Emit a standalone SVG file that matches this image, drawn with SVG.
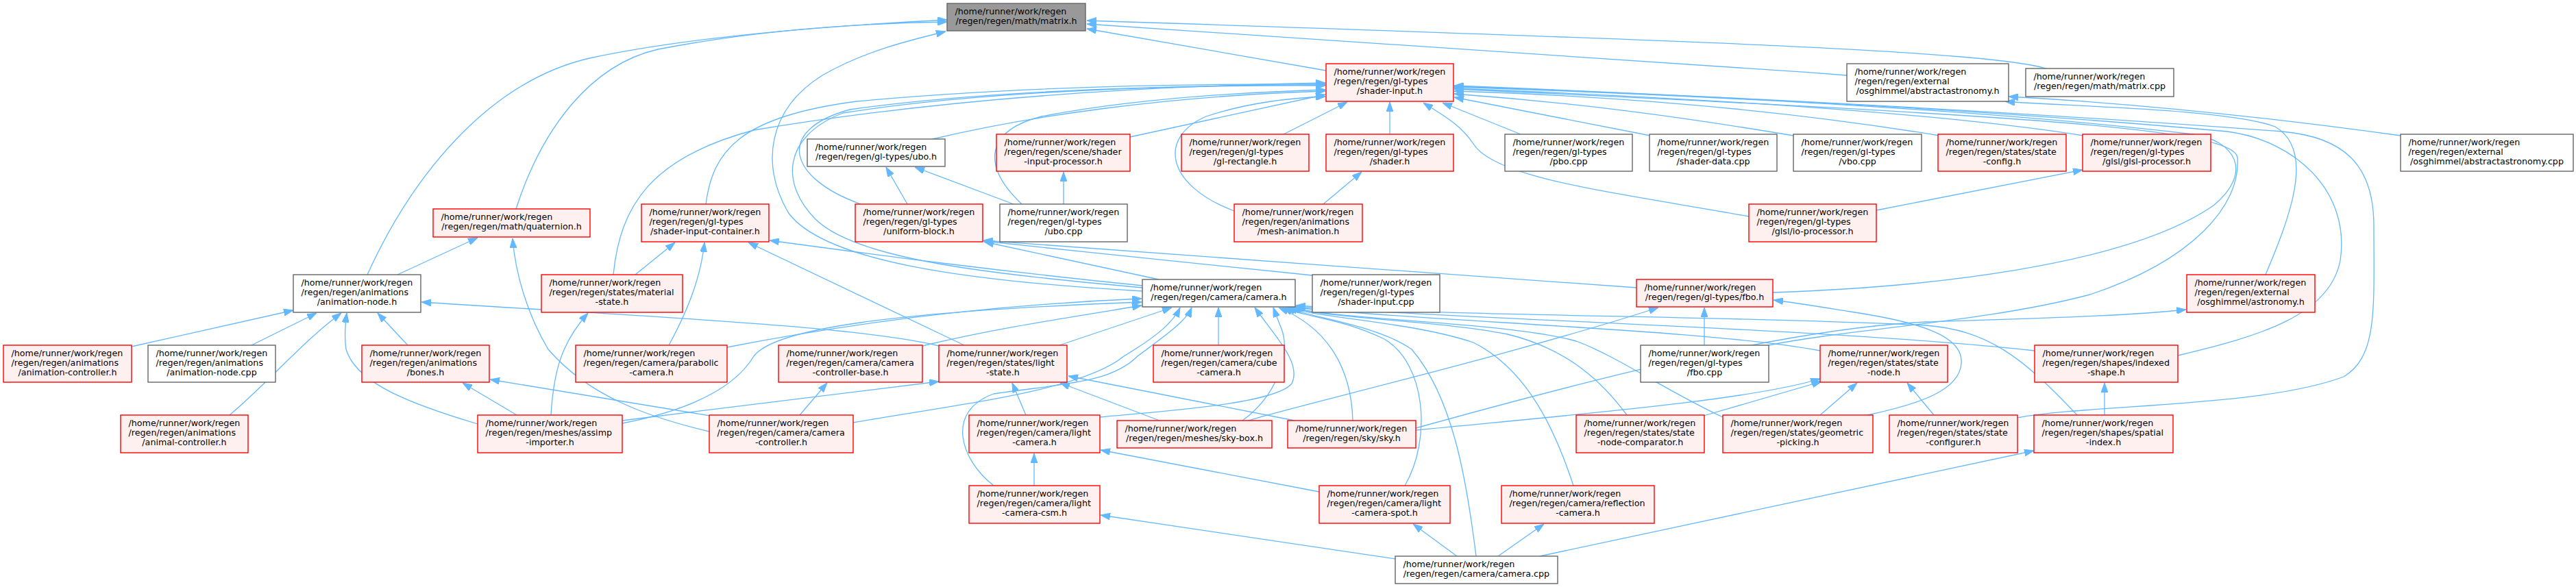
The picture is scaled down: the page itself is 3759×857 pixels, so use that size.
<svg xmlns="http://www.w3.org/2000/svg" width="3759" height="857" viewBox="0 0 3759 857">
<style>
.edges path{fill:none;stroke:#63b8ff;stroke-width:1.3;marker-end:url(#a)}
rect{stroke-width:1.4}
.g rect{fill:#ffffff;stroke:#666666}
.r rect{fill:#fff0f0;stroke:#ff0000}
.root rect{fill:#999999;stroke:#666666}
text{font-family:"DejaVu Sans","Liberation Sans",sans-serif;font-size:12.7px;fill:#000000}
.m{text-anchor:middle}
</style>
<defs>
<marker id="a" markerUnits="userSpaceOnUse" markerWidth="14" markerHeight="10" refX="14" refY="5" orient="auto"><path d="M0,0 L14,5 L0,10 z" fill="#63b8ff" stroke="#63b8ff" stroke-width="1"/></marker>
</defs>
<rect x="0" y="0" width="3759" height="857" fill="#ffffff" stroke="none"/>
<g id="edges" class="edges">
<path d="M536,401 C600,260 710,120 860,85 C1000,55 1200,38 1382,29"/>
<path d="M753,305 C790,190 860,95 960,72 C1100,45 1250,34 1382,32"/>
<path d="M1667,425 C1400,410 1200,380 1150,310 C1110,240 1120,160 1200,110 C1260,75 1330,58 1380,46"/>
<path d="M1935,103 L1586,42"/>
<path d="M2695,110 C2300,80 1900,55 1586,35"/>
<path d="M2986,100 C2900,75 2500,60 1586,30"/>
<path d="M580,401 L697,347"/>
<path d="M1035,630 C950,610 860,580 800,510 C770,460 752,400 748,348"/>
<path d="M192,506 L428,453"/>
<path d="M367,504 L462,457"/>
<path d="M335,606 C390,560 440,500 498,457"/>
<path d="M697,619 C600,590 520,560 505,510 C502,490 504,472 506,457"/>
<path d="M595,504 L551,457"/>
<path d="M1370,505 C1250,475 900,460 615,441"/>
<path d="M754,606 L675,559"/>
<path d="M1036,607 L715,554"/>
<path d="M804,606 C808,540 820,500 858,457"/>
<path d="M927,401 L985,354"/>
<path d="M976,504 C1000,460 1022,410 1028,354"/>
<path d="M1407,504 L1092,354"/>
<path d="M1667,417 C1450,395 1300,375 1123,351"/>
<path d="M1691,408 L1436,353"/>
<path d="M2388,420 C2100,400 1700,370 1435,351"/>
<path d="M1915,402 C1800,390 1600,370 1435,352"/>
<path d="M1324,298 L1293,244"/>
<path d="M1479,298 L1335,244"/>
<path d="M1552,298 L1552,251"/>
<path d="M1931,298 L1987,251"/>
<path d="M2738,307 L3039,248"/>
<path d="M3503,198 C3300,170 3100,150 2931,141"/>
<path d="M3306,401 C3340,320 3380,220 3320,185 C3250,158 3000,155 2926,148"/>
<path d="M2066,625 C2300,560 2600,480 2810,470 C2950,465 3100,462 3190,452"/>
<path d="M2581,504 C2700,480 2900,470 3050,430 C3200,380 3270,300 3265,230 C3260,190 3000,170 2122,130"/>
<path d="M2587,427 C2800,420 3100,390 3230,300 C3290,250 3260,205 3200,196 C2900,160 2500,140 2122,127"/>
<path d="M3178,519 C3300,490 3400,460 3415,380 C3430,280 3350,205 3250,192 C2900,160 2500,140 2122,126"/>
<path d="M2944,610 C3050,590 3300,595 3420,550 C3470,520 3464,450 3464,330 C3464,240 3420,200 3330,192 C2900,160 2500,140 2122,125"/>
<path d="M2219,196 L2105,150"/>
<path d="M2408,198 L2122,142"/>
<path d="M2617,198 C2450,170 2300,150 2122,137"/>
<path d="M2830,198 C2600,160 2350,140 2122,133"/>
<path d="M3040,198 C2800,160 2400,140 2122,129"/>
<path d="M2552,316 C2350,280 2180,260 2150,210 C2130,180 2100,165 2077,150"/>
<path d="M2028,196 L2028,149"/>
<path d="M1873,196 L1966,149"/>
<path d="M1649,200 L1934,138"/>
<path d="M1361,203 C1500,170 1700,140 1934,133"/>
<path d="M1491,298 C1430,240 1440,190 1520,170 C1650,145 1800,135 1934,131"/>
<path d="M1801,308 C1700,270 1690,200 1760,170 C1820,150 1880,143 1934,141"/>
<path d="M1030,298 C1040,220 1080,170 1250,148 C1500,125 1750,122 1934,123"/>
<path d="M1256,298 C1150,260 1130,190 1240,160 C1450,130 1750,124 1934,124"/>
<path d="M895,401 C905,300 950,230 1100,190 C1400,140 1700,125 1934,121"/>
<path d="M1667,420 C1450,400 1250,380 1190,320 C1140,270 1140,200 1230,165 C1450,130 1750,124 1934,125"/>
<path d="M1778,504 L1778,449"/>
<path d="M1546,504 L1710,449"/>
<path d="M1346,505 C1450,480 1550,465 1666,446"/>
<path d="M1061,507 C1250,470 1450,445 1666,436"/>
<path d="M908,618 C1000,600 1070,570 1100,520 C1130,480 1300,455 1666,441"/>
<path d="M908,614 L1370,557"/>
<path d="M1245,617 C1400,590 1580,570 1640,520 C1690,490 1712,470 1722,449"/>
<path d="M1167,606 L1207,559"/>
<path d="M1497,606 L1477,559"/>
<path d="M1605,609 C1700,600 1860,590 1885,560 C1900,530 1860,490 1831,449"/>
<path d="M1509,709 L1509,662"/>
<path d="M1450,709 C1400,670 1380,600 1450,575 C1550,560 1620,560 1660,520 C1700,490 1730,470 1739,449"/>
<path d="M1813,614 C1860,580 1885,520 1870,480 C1866,470 1862,460 1858,449"/>
<path d="M1692,614 L1547,559"/>
<path d="M1821,614 C1900,590 2200,520 2420,449"/>
<path d="M1889,614 L1559,549"/>
<path d="M1974,614 C1972,540 1940,480 1866,449"/>
<path d="M2050,709 C2090,640 2080,530 2020,495 C1960,465 1900,462 1872,449"/>
<path d="M1925,718 L1606,657"/>
<path d="M2036,816 L1606,752"/>
<path d="M2126,812 L2062,765"/>
<path d="M2186,812 L2253,765"/>
<path d="M2154,812 C2140,700 2120,580 2060,510 C2010,475 1920,465 1876,449"/>
<path d="M2296,709 C2270,630 2230,540 2150,500 C2060,470 1930,465 1879,449"/>
<path d="M2374,606 C2340,560 2290,510 2200,488 C2100,468 1950,466 1882,449"/>
<path d="M2514,609 C2430,570 2360,520 2300,498 C2200,470 1960,468 1885,449"/>
<path d="M2656,512 C2500,482 2100,470 1888,449"/>
<path d="M2969,512 C2700,482 2200,468 1890,448"/>
<path d="M3031,606 C2950,520 2900,482 2810,475 C2500,460 2100,462 1891,446"/>
<path d="M2486,607 L2658,557"/>
<path d="M2656,606 L2710,559"/>
<path d="M2822,606 L2783,559"/>
<path d="M2066,628 C2300,605 2550,585 2656,553"/>
<path d="M2725,606 C2800,590 2860,570 2862,530 C2865,490 2800,470 2700,455 C2650,447 2620,442 2588,438"/>
<path d="M2487,504 L2487,449"/>
<path d="M3071,606 L3071,559"/>
<path d="M2247,812 L2968,658"/>
</g>
<g id="matrix_h" class="root"><rect x="1382" y="5" width="202" height="40"/><text x="1393.5" y="20.5">/home/runner/work/regen</text><text class="m" x="1483" y="34.5">/regen/regen/math/matrix.h</text></g>
<g id="shader_input_h" class="r"><rect x="1935" y="93" width="186" height="55"/><text x="1946.5" y="108.5">/home/runner/work/regen</text><text x="1946.5" y="122.5">/regen/regen/gl-types</text><text class="m" x="2028" y="136.5">/shader-input.h</text></g>
<g id="abstractastronomy_h" class="g"><rect x="2695" y="93" width="236" height="55"/><text x="2706.5" y="108.5">/home/runner/work/regen</text><text x="2706.5" y="122.5">/regen/regen/external</text><text class="m" x="2813" y="136.5">/osghimmel/abstractastronomy.h</text></g>
<g id="matrix_cpp" class="g"><rect x="2956" y="100" width="216" height="41"/><text x="2967.5" y="115.5">/home/runner/work/regen</text><text class="m" x="3064" y="129.5">/regen/regen/math/matrix.cpp</text></g>
<g id="ubo_h" class="g"><rect x="1178" y="203" width="201" height="40"/><text x="1189.5" y="218.5">/home/runner/work/regen</text><text class="m" x="1278.5" y="232.5">/regen/regen/gl-types/ubo.h</text></g>
<g id="shader_input_processor_h" class="r"><rect x="1454" y="196" width="195" height="54"/><text x="1465.5" y="211.5">/home/runner/work/regen</text><text x="1465.5" y="225.5">/regen/regen/scene/shader</text><text class="m" x="1551.5" y="239.5">-input-processor.h</text></g>
<g id="gl_rectangle_h" class="r"><rect x="1724" y="196" width="186" height="54"/><text x="1735.5" y="211.5">/home/runner/work/regen</text><text x="1735.5" y="225.5">/regen/regen/gl-types</text><text class="m" x="1817" y="239.5">/gl-rectangle.h</text></g>
<g id="shader_h" class="r"><rect x="1935" y="196" width="186" height="54"/><text x="1946.5" y="211.5">/home/runner/work/regen</text><text x="1946.5" y="225.5">/regen/regen/gl-types</text><text class="m" x="2028" y="239.5">/shader.h</text></g>
<g id="pbo_cpp" class="g"><rect x="2196" y="196" width="186" height="54"/><text x="2207.5" y="211.5">/home/runner/work/regen</text><text x="2207.5" y="225.5">/regen/regen/gl-types</text><text class="m" x="2289" y="239.5">/pbo.cpp</text></g>
<g id="shader_data_cpp" class="g"><rect x="2407" y="196" width="186" height="54"/><text x="2418.5" y="211.5">/home/runner/work/regen</text><text x="2418.5" y="225.5">/regen/regen/gl-types</text><text class="m" x="2500" y="239.5">/shader-data.cpp</text></g>
<g id="vbo_cpp" class="g"><rect x="2617" y="196" width="187" height="54"/><text x="2628.5" y="211.5">/home/runner/work/regen</text><text x="2628.5" y="225.5">/regen/regen/gl-types</text><text class="m" x="2710.5" y="239.5">/vbo.cpp</text></g>
<g id="state_config_h" class="r"><rect x="2828" y="196" width="187" height="54"/><text x="2839.5" y="211.5">/home/runner/work/regen</text><text x="2839.5" y="225.5">/regen/regen/states/state</text><text class="m" x="2921.5" y="239.5">-config.h</text></g>
<g id="glsl_processor_h" class="r"><rect x="3039" y="196" width="187" height="54"/><text x="3050.5" y="211.5">/home/runner/work/regen</text><text x="3050.5" y="225.5">/regen/regen/gl-types</text><text class="m" x="3132.5" y="239.5">/glsl/glsl-processor.h</text></g>
<g id="abstractastronomy_cpp" class="g"><rect x="3503" y="196" width="252" height="54"/><text x="3514.5" y="211.5">/home/runner/work/regen</text><text x="3514.5" y="225.5">/regen/regen/external</text><text class="m" x="3629" y="239.5">/osghimmel/abstractastronomy.cpp</text></g>
<g id="quaternion_h" class="r"><rect x="632" y="305" width="229" height="41"/><text x="643.5" y="320.5">/home/runner/work/regen</text><text class="m" x="746.5" y="334.5">/regen/regen/math/quaternion.h</text></g>
<g id="shader_input_container_h" class="r"><rect x="936" y="298" width="186" height="55"/><text x="947.5" y="313.5">/home/runner/work/regen</text><text x="947.5" y="327.5">/regen/regen/gl-types</text><text class="m" x="1029" y="341.5">/shader-input-container.h</text></g>
<g id="uniform_block_h" class="r"><rect x="1248" y="298" width="186" height="55"/><text x="1259.5" y="313.5">/home/runner/work/regen</text><text x="1259.5" y="327.5">/regen/regen/gl-types</text><text class="m" x="1341" y="341.5">/uniform-block.h</text></g>
<g id="ubo_cpp" class="g"><rect x="1459" y="298" width="186" height="55"/><text x="1470.5" y="313.5">/home/runner/work/regen</text><text x="1470.5" y="327.5">/regen/regen/gl-types</text><text class="m" x="1552" y="341.5">/ubo.cpp</text></g>
<g id="mesh_animation_h" class="r"><rect x="1801" y="298" width="187" height="55"/><text x="1812.5" y="313.5">/home/runner/work/regen</text><text x="1812.5" y="327.5">/regen/regen/animations</text><text class="m" x="1894.5" y="341.5">/mesh-animation.h</text></g>
<g id="io_processor_h" class="r"><rect x="2552" y="298" width="186" height="55"/><text x="2563.5" y="313.5">/home/runner/work/regen</text><text x="2563.5" y="327.5">/regen/regen/gl-types</text><text class="m" x="2645" y="341.5">/glsl/io-processor.h</text></g>
<g id="animation_node_h" class="g"><rect x="428" y="401" width="186" height="55"/><text x="439.5" y="416.5">/home/runner/work/regen</text><text x="439.5" y="430.5">/regen/regen/animations</text><text class="m" x="521" y="444.5">/animation-node.h</text></g>
<g id="material_state_h" class="r"><rect x="790" y="401" width="206" height="55"/><text x="801.5" y="416.5">/home/runner/work/regen</text><text x="801.5" y="430.5">/regen/regen/states/material</text><text class="m" x="893" y="444.5">-state.h</text></g>
<g id="camera_h" class="g"><rect x="1667" y="408" width="223" height="40"/><text x="1678.5" y="423.5">/home/runner/work/regen</text><text class="m" x="1778.5" y="437.5">/regen/regen/camera/camera.h</text></g>
<g id="shader_input_cpp" class="g"><rect x="1915" y="401" width="186" height="55"/><text x="1926.5" y="416.5">/home/runner/work/regen</text><text x="1926.5" y="430.5">/regen/regen/gl-types</text><text class="m" x="2008" y="444.5">/shader-input.cpp</text></g>
<g id="fbo_h" class="r"><rect x="2388" y="408" width="199" height="40"/><text x="2399.5" y="423.5">/home/runner/work/regen</text><text class="m" x="2487.5" y="437.5">/regen/regen/gl-types/fbo.h</text></g>
<g id="astronomy_h" class="r"><rect x="3191" y="401" width="187" height="55"/><text x="3202.5" y="416.5">/home/runner/work/regen</text><text x="3202.5" y="430.5">/regen/regen/external</text><text class="m" x="3284.5" y="444.5">/osghimmel/astronomy.h</text></g>
<g id="animation_controller_h" class="r"><rect x="5" y="504" width="187" height="54"/><text x="16.5" y="519.5">/home/runner/work/regen</text><text x="16.5" y="533.5">/regen/regen/animations</text><text class="m" x="98.5" y="547.5">/animation-controller.h</text></g>
<g id="animation_node_cpp" class="g"><rect x="216" y="504" width="186" height="54"/><text x="227.5" y="519.5">/home/runner/work/regen</text><text x="227.5" y="533.5">/regen/regen/animations</text><text class="m" x="309" y="547.5">/animation-node.cpp</text></g>
<g id="bones_h" class="r"><rect x="528" y="504" width="186" height="54"/><text x="539.5" y="519.5">/home/runner/work/regen</text><text x="539.5" y="533.5">/regen/regen/animations</text><text class="m" x="621" y="547.5">/bones.h</text></g>
<g id="parabolic_camera_h" class="r"><rect x="840" y="504" width="221" height="54"/><text x="851.5" y="519.5">/home/runner/work/regen</text><text x="851.5" y="533.5">/regen/regen/camera/parabolic</text><text class="m" x="950.5" y="547.5">-camera.h</text></g>
<g id="camera_controller_base_h" class="r"><rect x="1136" y="504" width="210" height="54"/><text x="1147.5" y="519.5">/home/runner/work/regen</text><text x="1147.5" y="533.5">/regen/regen/camera/camera</text><text class="m" x="1241" y="547.5">-controller-base.h</text></g>
<g id="light_state_h" class="r"><rect x="1370" y="504" width="187" height="54"/><text x="1381.5" y="519.5">/home/runner/work/regen</text><text x="1381.5" y="533.5">/regen/regen/states/light</text><text class="m" x="1463.5" y="547.5">-state.h</text></g>
<g id="cube_camera_h" class="r"><rect x="1683" y="504" width="191" height="54"/><text x="1694.5" y="519.5">/home/runner/work/regen</text><text x="1694.5" y="533.5">/regen/regen/camera/cube</text><text class="m" x="1778.5" y="547.5">-camera.h</text></g>
<g id="fbo_cpp" class="g"><rect x="2394" y="504" width="187" height="54"/><text x="2405.5" y="519.5">/home/runner/work/regen</text><text x="2405.5" y="533.5">/regen/regen/gl-types</text><text class="m" x="2487.5" y="547.5">/fbo.cpp</text></g>
<g id="state_node_h" class="r"><rect x="2656" y="504" width="186" height="54"/><text x="2667.5" y="519.5">/home/runner/work/regen</text><text x="2667.5" y="533.5">/regen/regen/states/state</text><text class="m" x="2749" y="547.5">-node.h</text></g>
<g id="indexed_shape_h" class="r"><rect x="2969" y="504" width="209" height="54"/><text x="2980.5" y="519.5">/home/runner/work/regen</text><text x="2980.5" y="533.5">/regen/regen/shapes/indexed</text><text class="m" x="3073.5" y="547.5">-shape.h</text></g>
<g id="animal_controller_h" class="r"><rect x="176" y="606" width="186" height="55"/><text x="187.5" y="621.5">/home/runner/work/regen</text><text x="187.5" y="635.5">/regen/regen/animations</text><text class="m" x="269" y="649.5">/animal-controller.h</text></g>
<g id="assimp_importer_h" class="r"><rect x="697" y="606" width="211" height="55"/><text x="708.5" y="621.5">/home/runner/work/regen</text><text x="708.5" y="635.5">/regen/regen/meshes/assimp</text><text class="m" x="802.5" y="649.5">-importer.h</text></g>
<g id="camera_controller_h" class="r"><rect x="1035" y="606" width="210" height="55"/><text x="1046.5" y="621.5">/home/runner/work/regen</text><text x="1046.5" y="635.5">/regen/regen/camera/camera</text><text class="m" x="1140" y="649.5">-controller.h</text></g>
<g id="light_camera_h" class="r"><rect x="1414" y="606" width="191" height="55"/><text x="1425.5" y="621.5">/home/runner/work/regen</text><text x="1425.5" y="635.5">/regen/regen/camera/light</text><text class="m" x="1509.5" y="649.5">-camera.h</text></g>
<g id="sky_box_h" class="r"><rect x="1630" y="614" width="226" height="40"/><text x="1641.5" y="629.5">/home/runner/work/regen</text><text class="m" x="1743" y="643.5">/regen/regen/meshes/sky-box.h</text></g>
<g id="sky_h" class="r"><rect x="1879" y="614" width="187" height="40"/><text x="1890.5" y="629.5">/home/runner/work/regen</text><text class="m" x="1972.5" y="643.5">/regen/regen/sky/sky.h</text></g>
<g id="state_node_comparator_h" class="r"><rect x="2300" y="606" width="187" height="55"/><text x="2311.5" y="621.5">/home/runner/work/regen</text><text x="2311.5" y="635.5">/regen/regen/states/state</text><text class="m" x="2393.5" y="649.5">-node-comparator.h</text></g>
<g id="geometric_picking_h" class="r"><rect x="2514" y="606" width="219" height="55"/><text x="2525.5" y="621.5">/home/runner/work/regen</text><text x="2525.5" y="635.5">/regen/regen/states/geometric</text><text class="m" x="2623.5" y="649.5">-picking.h</text></g>
<g id="state_configurer_h" class="r"><rect x="2757" y="606" width="187" height="55"/><text x="2768.5" y="621.5">/home/runner/work/regen</text><text x="2768.5" y="635.5">/regen/regen/states/state</text><text class="m" x="2850.5" y="649.5">-configurer.h</text></g>
<g id="spatial_index_h" class="r"><rect x="2968" y="606" width="203" height="55"/><text x="2979.5" y="621.5">/home/runner/work/regen</text><text x="2979.5" y="635.5">/regen/regen/shapes/spatial</text><text class="m" x="3069.5" y="649.5">-index.h</text></g>
<g id="light_camera_csm_h" class="r"><rect x="1414" y="709" width="191" height="55"/><text x="1425.5" y="724.5">/home/runner/work/regen</text><text x="1425.5" y="738.5">/regen/regen/camera/light</text><text class="m" x="1509.5" y="752.5">-camera-csm.h</text></g>
<g id="light_camera_spot_h" class="r"><rect x="1925" y="709" width="191" height="55"/><text x="1936.5" y="724.5">/home/runner/work/regen</text><text x="1936.5" y="738.5">/regen/regen/camera/light</text><text class="m" x="2020.5" y="752.5">-camera-spot.h</text></g>
<g id="reflection_camera_h" class="r"><rect x="2191" y="709" width="223" height="55"/><text x="2202.5" y="724.5">/home/runner/work/regen</text><text x="2202.5" y="738.5">/regen/regen/camera/reflection</text><text class="m" x="2302.5" y="752.5">-camera.h</text></g>
<g id="camera_cpp" class="g"><rect x="2036" y="812" width="237" height="40"/><text x="2047.5" y="827.5">/home/runner/work/regen</text><text class="m" x="2154.5" y="841.5">/regen/regen/camera/camera.cpp</text></g>
</svg>
